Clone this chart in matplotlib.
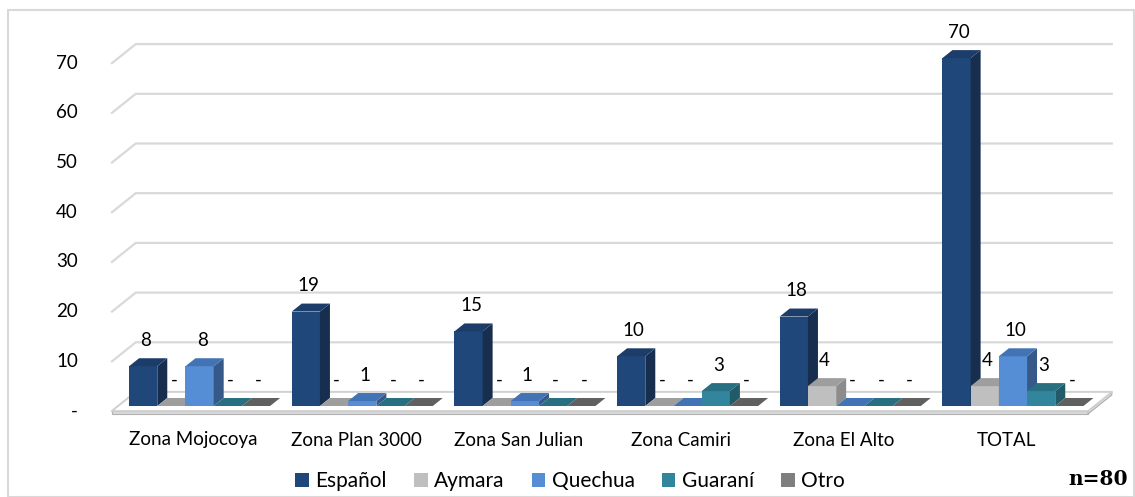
import matplotlib.pyplot as plt
from matplotlib.patches import Polygon, Patch, Rectangle

# datos
zonas = ["Zona Mojocoya", "Zona Plan 3000", "Zona San Julian",
         "Zona Camiri", "Zona El Alto", "TOTAL"]
idiomas = ["Español", "Aymara", "Quechua", "Guaraní", "Otro"]
espanol = [8, 19, 15, 10, 18, 70]
aymara = [0, 0, 0, 0, 4, 4]
quechua = [8, 1, 1, 0, 0, 10]
guarani = [0, 0, 0, 3, 0, 3]
otro = [0, 0, 0, 0, 0, 0]
yticks = [0, 10, 20, 30, 40, 50, 60, 70]
ytick_labels = ["-", "10", "20", "30", "40", "50", "60", "70"]

series = [espanol, aymara, quechua, guarani, otro]
# (frente, lado, arriba)
colores = [("#1F477A", "#172E4F", "#1C3D69"),
           ("#BFBFBF", "#8C8C8C", "#9E9E9E"),
           ("#558ED5", "#37598A", "#4273B5"),
           ("#31859C", "#215A69", "#286F82"),
           ("#7F7F7F", "#555555", "#606060")]

W_PX, H_PX = 1135, 497
X0_PX, SLOT_PX = 112, 162.67   # inicio del piso y ancho de cada zona
Y0_PX, PPU = 411, 4.97         # pixel del valor 0 y pixeles por unidad
FLOOR_D = 19                   # profundidad del piso (px)
BAR_D0, BAR_D1 = 5, 13         # profundidad de las barras
W = 0.1734
GAP = (1 - W * len(series)) / 2


def sh(x, v, d):
    # desplaza un punto "hacia atras" d pixeles (perspectiva oblicua)
    return (x + 1.25 * d / SLOT_PX, v + d / PPU)


def px_v(p):
    return p / PPU


fig = plt.figure(figsize=(W_PX / 100, H_PX / 100), dpi=100)
ax = fig.add_axes([0, 0, 1, 1])
ax.set_xlim(-X0_PX / SLOT_PX, (W_PX - X0_PX) / SLOT_PX)
ax.set_ylim((Y0_PX - H_PX) / PPU, Y0_PX / PPU)
ax.axis("off")

font = "Lato"
fs = 13.5
n = len(zonas)

# marco
fig.patches.append(Rectangle((8 / W_PX, 0), (W_PX - 9) / W_PX, 1 - 10 / H_PX,
                             transform=fig.transFigure, fill=False,
                             edgecolor="#D9D9D9", linewidth=1.5))

# lineas de division
for v, lab in zip(yticks, ytick_labels):
    pts = [sh(0, v, 0), sh(0, v, FLOOR_D), sh(n, v, FLOOR_D)]
    ax.plot([p[0] for p in pts], [p[1] for p in pts], color="#D9D9D9",
            linewidth=1.6, zorder=1, solid_joinstyle="miter")
    ax.text(-34 / SLOT_PX, v, lab, ha="right", va="center", fontsize=fs,
            family=font, color="#000000")

# piso
t = px_v(3)
ax.add_patch(Polygon([(0, 0), (n, 0), (0 + n, -t), (0, -t)], closed=True,
                     facecolor="#DADADA", edgecolor="#B0B0B0", linewidth=0.8, zorder=2))
ax.add_patch(Polygon([sh(n, 0, 0), sh(n, 0, FLOOR_D), sh(n, -t, FLOOR_D), sh(n, -t, 0)],
                     closed=True, facecolor="#DADADA", edgecolor="#B0B0B0",
                     linewidth=0.8, zorder=2))
ax.add_patch(Polygon([sh(0, 0, 0), sh(n, 0, 0), sh(n, 0, FLOOR_D), sh(0, 0, FLOOR_D)],
                     closed=True, facecolor="#FFFFFF", edgecolor="#D0D0D0",
                     linewidth=1.2, zorder=2))

# barras
z = 3
for i in range(n):
    for j, s in enumerate(series):
        v = s[i]
        fc, sc, tc = colores[j]
        x0 = i + GAP + j * W
        x1 = x0 + W
        # frente
        ax.add_patch(Polygon([sh(x0, 0, BAR_D0), sh(x1, 0, BAR_D0),
                              sh(x1, v, BAR_D0), sh(x0, v, BAR_D0)],
                             closed=True, facecolor=fc, edgecolor="none", zorder=z))
        # lado
        ax.add_patch(Polygon([sh(x1, 0, BAR_D0), sh(x1, 0, BAR_D1),
                              sh(x1, v, BAR_D1), sh(x1, v, BAR_D0)],
                             closed=True, facecolor=sc, edgecolor="none", zorder=z))
        # arriba
        ax.add_patch(Polygon([sh(x0, v, BAR_D0), sh(x1, v, BAR_D0),
                              sh(x1, v, BAR_D1), sh(x0, v, BAR_D1)],
                             closed=True, facecolor=tc, edgecolor="none", zorder=z))
        z += 1
        lx, ly = sh(x0 + W / 2, v + px_v(24), BAR_D0 + 2)
        ax.text(lx, ly, str(v) if v else "-", ha="center", va="center",
                fontsize=fs, family=font, zorder=50)

# etiquetas de zonas
for i, zn in enumerate(zonas):
    ax.text(i + 0.5, -px_v(440 - Y0_PX), zn, ha="center", va="center",
            fontsize=fs, family=font)

handles = [Patch(facecolor=c[0], edgecolor="none") for c in colores]
fig.legend(handles, idiomas, loc="center", bbox_to_anchor=(570 / W_PX, 1 - 481 / H_PX),
           ncol=5, frameon=False, handlelength=0.66, handleheight=0.66,
           handletextpad=0.3, columnspacing=1.3, borderpad=0.2,
           prop={"family": font, "size": 15})

fig.text(1098 / W_PX, 1 - 479 / H_PX, "n=80", ha="center", va="center",
         fontsize=14.5, fontweight="bold", family="DejaVu Serif")

fig.savefig("out.png", dpi=100)
